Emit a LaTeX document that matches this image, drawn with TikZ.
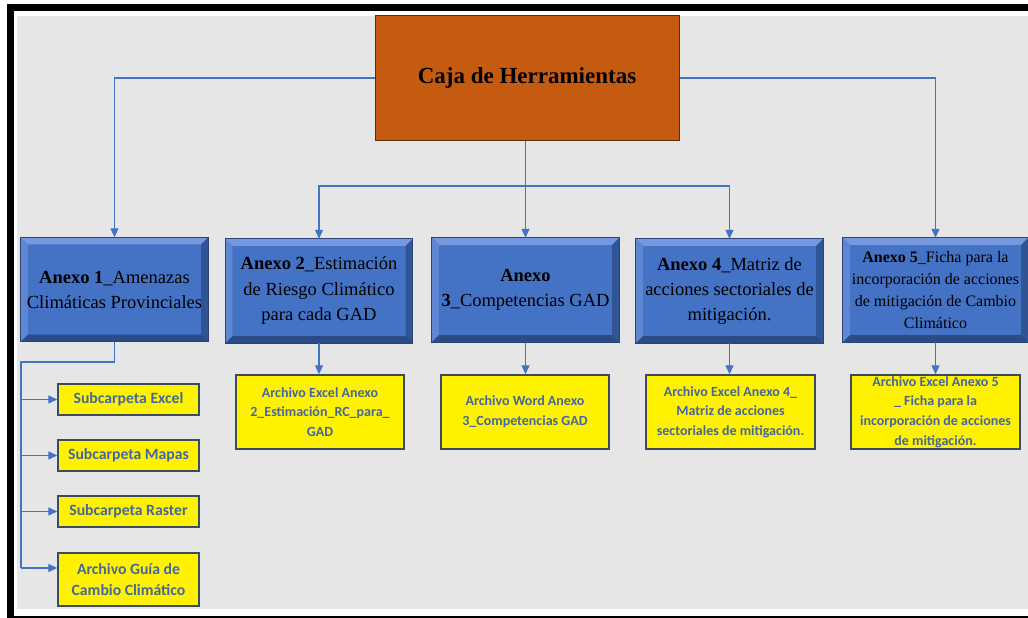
\documentclass[tikz,border=0pt]{standalone}
\usepackage{fontspec}
\setmainfont{Liberation Serif}
\newfontfamily\calfont{Carlito}
\usetikzlibrary{arrows.meta,calc}
\definecolor{panel}{HTML}{E6E6E6}
\definecolor{orangebox}{HTML}{C55A11}
\definecolor{orangeedge}{HTML}{5E2E0A}
\definecolor{bface}{HTML}{4472C4}
\definecolor{btop}{HTML}{7598DE}
\definecolor{bleft}{HTML}{5F86D2}
\definecolor{bright}{HTML}{2F5597}
\definecolor{bbot}{HTML}{2A4B86}
\definecolor{bedge}{HTML}{2A4474}
\definecolor{conncol}{HTML}{4472C4}
\definecolor{ytext}{HTML}{46679B}
\definecolor{yedge}{HTML}{3D4B5C}
\tikzset{
  mainbox/.style={draw=orangeedge,line width=1pt,fill=orangebox,inner sep=0pt,
    minimum width=304pt,minimum height=124pt,font=\fontsize{23}{28}\selectfont\bfseries},
  bluebox/.style={fill=bface,inner sep=0pt,align=center,
    minimum width=187pt,minimum height=104pt,font=\fontsize{18.5}{25}\selectfont},
  yellowbox/.style={draw=yedge,line width=1.4pt,fill=yellow,inner sep=0pt,align=center,
    text=ytext,minimum width=141pt,minimum height=31pt,font=\calfont\bfseries\fontsize{15.7}{21}\selectfont},
  filebox/.style={yellowbox,minimum width=168pt,minimum height=74pt,font=\calfont\bfseries\fontsize{14}{19.7}\selectfont},
  conn/.style={draw=conncol,line width=1.1pt,-{Triangle[width=8pt,length=9pt]}},
  connline/.style={draw=conncol,line width=1.1pt}
}
\newcommand\bevel[1]{%
  \fill[btop] (#1.north west) -- (#1.north east) -- ([xshift=-7pt,yshift=-7pt]#1.north east) -- ([xshift=7pt,yshift=-7pt]#1.north west) -- cycle;
  \fill[bleft] (#1.north west) -- (#1.south west) -- ([xshift=7pt,yshift=7pt]#1.south west) -- ([xshift=7pt,yshift=-7pt]#1.north west) -- cycle;
  \fill[bright] (#1.north east) -- (#1.south east) -- ([xshift=-7pt,yshift=7pt]#1.south east) -- ([xshift=-7pt,yshift=-7pt]#1.north east) -- cycle;
  \fill[bbot] (#1.south west) -- (#1.south east) -- ([xshift=-7pt,yshift=7pt]#1.south east) -- ([xshift=7pt,yshift=7pt]#1.south west) -- cycle;
  \draw[bedge,line width=0.8pt] (#1.north west) rectangle (#1.south east);
}
\begin{document}
\begin{tikzpicture}[x=1pt,y=-1pt]
\useasboundingbox (0,0) rectangle (1028,618);
\begin{scope}
\clip (0,0) rectangle (1028,618);
\fill[white] (0,0) rectangle (1028,618);
\fill[black] (7,4) rectangle (1040,640);
\fill[white] (14,11) rectangle (1040,616);
\fill[panel] (17,16) rectangle (1040,609);
\end{scope}

% main box
\node[mainbox] (main) at (527,78) {Caja de Herramientas};

% blue boxes (faces first)
\node[bluebox] (b1) at (114.5,289.5) {};
\node[bluebox] (b2) at (319,291) {};
\node[bluebox] (b3) at (525.5,290) {};
\node[bluebox] (b4) at (729.5,291) {};
\node[bluebox,minimum width=185pt] (b5) at (935.5,290) {};
\bevel{b1}\bevel{b2}\bevel{b3}\bevel{b4}\bevel{b5}
\node[font=\fontsize{18.5}{25}\selectfont,align=center,inner sep=0pt] (t1) at (b1.center)
  {\textbf{Anexo 1}\_Amenazas\\Climáticas Provinciales};
\node[font=\fontsize{18.5}{25.5}\selectfont,align=center,inner sep=0pt] (t2) at (b2.center)
  {\textbf{Anexo 2}\_Estimación\\de Riesgo Climático\\para cada GAD};
\node[font=\fontsize{18.5}{25}\selectfont,align=center,inner sep=0pt] (t3) at (b3.center)
  {\textbf{Anexo}\\\textbf{3}\_Competencias GAD};
\node[font=\fontsize{18.5}{25}\selectfont,align=center,inner sep=0pt] (t4) at (b4.center)
  {\textbf{Anexo 4}\_Matriz de\\acciones sectoriales de\\mitigación.};
\node[font=\fontsize{16}{21.7}\selectfont,align=center,inner sep=0pt] (t5) at (b5.center)
  {\textbf{Anexo 5}\_Ficha para la\\incorporación de acciones\\de mitigación de Cambio\\Climático};

% yellow boxes
\node[yellowbox] (s1) at (128.5,399.5) {Subcarpeta Excel};
\node[yellowbox] (s2) at (128.5,455.5) {Subcarpeta Mapas};
\node[yellowbox] (s3) at (128.5,511.5) {Subcarpeta Raster};
\node[yellowbox,minimum height=53pt] (s4) at (128.5,579.5) {Archivo Guía de\\Cambio Climático};
\node[filebox] (f2) at (320,412) {Archivo Excel Anexo\\2\_Estimación\_RC\_para\_\\GAD};
\node[filebox] (f3) at (525,412) {Archivo Word Anexo\\3\_Competencias GAD};
\node[filebox,minimum width=169pt] (f4) at (730.5,412) {Archivo Excel Anexo 4\_\\Matriz de acciones\\sectoriales de mitigación.};
\node[filebox,minimum width=169pt] (f5) at (935.5,412) {Archivo Excel Anexo 5\\\_ Ficha para la\\incorporación de acciones\\de mitigación.};

% connectors from main
\draw[conn] (main.west) -| (b1.north);
\draw[conn] (main.east) -| (b5.north);
\draw[conn] (b3.north |- main.south) -- (b3.north);
\coordinate (j) at (525.5,186);
\draw[conn] (j) -| (b2.north);
\draw[conn] (j) -| (b4.north);

% annex to files
\draw[conn] (b2.south) -- (b2.south |- f2.north);
\draw[conn] (b3.south) -- (b3.south |- f3.north);
\draw[conn] (b4.south) -- (b4.south |- f4.north);
\draw[conn] (b5.south) -- (b5.south |- f5.north);

% left rail
\coordinate (rtop) at (21,362);
\coordinate (r4) at (21,568);
\draw[connline] (b1.south) |- (rtop) -- (r4);
\draw[conn] (rtop |- s1.west) -- (s1.west);
\draw[conn] (rtop |- s2.west) -- (s2.west);
\draw[conn] (rtop |- s3.west) -- (s3.west);
\draw[conn] (r4) -- (r4 -| s4.west);
\end{tikzpicture}
\end{document}
